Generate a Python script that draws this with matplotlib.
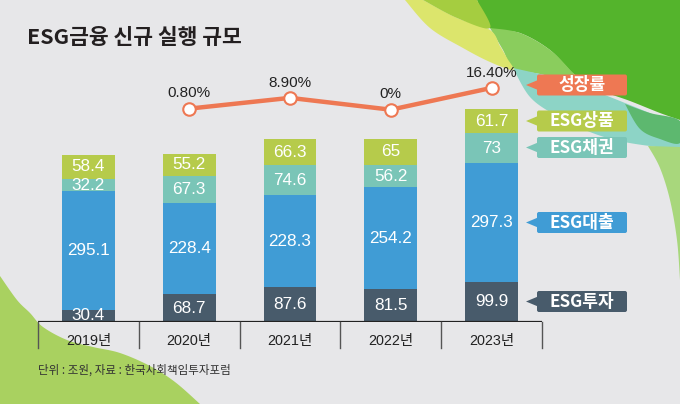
import numpy as np
import matplotlib
matplotlib.use("Agg")
import matplotlib.pyplot as plt
from matplotlib.patches import Polygon, FancyBboxPatch

plt.rcParams['font.family'] = ['Liberation Sans', 'Noto Sans CJK KR', 'DejaVu Sans']

# ---------------- data ----------------
years = ['2019년', '2020년', '2021년', '2022년', '2023년']
esg_invest = [30.4, 68.7, 87.6, 81.5, 99.9]      # ESG투자
esg_loan = [295.1, 228.4, 228.3, 254.2, 297.3]    # ESG대출
esg_bond = [32.2, 67.3, 74.6, 56.2, 73]           # ESG채권
esg_product = [58.4, 55.2, 66.3, 65, 61.7]        # ESG상품
growth_years = ['2020년', '2021년', '2022년', '2023년']
growth = [0.8, 8.9, 0, 16.4]
growth_labels = ['0.80%', '8.90%', '0%', '16.40%']
series_names = ['ESG투자', 'ESG대출', 'ESG채권', 'ESG상품']
line_name = '성장률'
title = 'ESG금융 신규 실행 규모'
note = '단위 : 조원, 자료 : 한국사회책임투자포럼'

C_INV = '#485b6b'
C_LOAN = '#409cd5'
C_BOND = '#7ac5b7'
C_PROD = '#b6cb4b'
C_LINE = '#ee7853'
BG = '#e7e7e9'

W, H = 680, 404
fig = plt.figure(figsize=(W / 100, H / 100), dpi=100)
fig.patch.set_facecolor(BG)

# ---------------- background decoration ----------------
bg = fig.add_axes([0, 0, 1, 1], zorder=0)
bg.set_xlim(0, W)
bg.set_ylim(H, 0)
bg.axis('off')


def smooth(pts, n=12):
    pts = np.asarray(pts, float)
    out = []
    for i in range(len(pts) - 1):
        p0 = pts[max(i - 1, 0)]
        p1 = pts[i]
        p2 = pts[i + 1]
        p3 = pts[min(i + 2, len(pts) - 1)]
        for t in np.linspace(0, 1, n, endpoint=False):
            t2, t3 = t * t, t * t * t
            out.append(0.5 * ((2 * p1) + (-p0 + p2) * t + (2 * p0 - 5 * p1 + 4 * p2 - p3) * t2
                              + (-p0 + 3 * p1 - 3 * p2 + p3) * t3))
    out.append(pts[-1])
    return np.array(out)


def shape(boundary, extra, color, z=1):
    pts = np.vstack([smooth(boundary), np.asarray(extra, float).reshape(-1, 2)]) if extra else smooth(boundary)
    bg.add_patch(Polygon(pts, closed=True, facecolor=color, edgecolor='none', zorder=z))


# bright green
shape([(477, 0), (490, 28), (520, 33), (550, 50), (575, 75), (600, 90), (630, 101), (660, 113), (680, 120)],
      [(680, 0)], '#54b42c')
# lighter green band
shape([(490, 28), (520, 33), (550, 50), (572, 72), (582, 84), (567, 80), (540, 74), (513, 68), (503, 50), (490, 28)],
      None, '#8acd5d')
# teal band
shape([(513, 68), (540, 74), (567, 80), (600, 93), (630, 105), (660, 117), (680, 123),
       (680, 148), (650, 146), (615, 140), (585, 130), (555, 115), (530, 97), (513, 68)], None, '#8dd4c6')
# overlap darker green
shape([(625, 104), (650, 113), (680, 121), (680, 143), (660, 139), (640, 129), (625, 104)], None, '#5db86f')
# yellow crescent
shape([(405, 0), (430, 28), (463, 48), (490, 62), (513, 70), (507, 58), (500, 46), (490, 30), (457, 18), (423, 0)],
      None, '#dce56c')
# lime top
shape([(423, 0), (457, 18), (490, 28), (477, 0)], None, '#a5cd40')
# right light green strip
shape([(648, 146), (660, 168), (670, 200), (677, 240), (680, 280)], [(680, 147)], '#a8d77c')
# bottom-left blob
shape([(0, 276), (17, 300), (30, 313), (43, 327), (67, 340), (93, 347), (120, 353), (150, 366),
       (175, 382), (200, 404)], [(0, 404)], '#a9d160')

# ---------------- main axes ----------------
px_per_unit = 0.401
base_y = 322
ymax = 600
ax_h = ymax * px_per_unit
ax = fig.add_axes([38 / W, (H - base_y) / H, 504 / W, ax_h / H], zorder=2)
ax.patch.set_alpha(0)
ax.set_xlim(-0.5, 4.5)
ax.set_ylim(0, ymax)
for s in ax.spines.values():
    s.set_visible(False)
ax.set_xticks([])
ax.set_yticks([])

x = np.arange(len(years))
bw = 0.525
segments = [(esg_invest, C_INV), (esg_loan, C_LOAN), (esg_bond, C_BOND), (esg_product, C_PROD)]
bottom = np.zeros(len(years))
for vals, col in segments:
    vals = np.asarray(vals, float)
    ax.bar(x, vals, bottom=bottom, width=bw, color=col, edgecolor='none', zorder=2)
    for xi, b, v in zip(x, bottom, vals):
        lab = ('%g' % v)
        ax.text(xi, b + v / 2, lab, ha='center', va='center', color='white', fontsize=12.3,
                family=['Liberation Sans'], zorder=3)
    bottom += vals

ax.axhline(0, color='#222222', lw=1.6, zorder=4)
sep_len = 26 / px_per_unit
for b in np.arange(-0.5, 5.0, 1.0):
    ax.plot([b, b], [0, -sep_len], color='#555555', lw=1.0, clip_on=False, zorder=4)
for xi, yl in zip(x, years):
    ax.text(xi, -(341 - base_y) / px_per_unit, yl, ha='center', va='center', fontsize=10.4,
            color='#222222')

# growth line on twin axis
ax2 = ax.twinx()
ax2.patch.set_alpha(0)
# pixel y of growth g ~ 109.7 - 1.33 g
g_bottom = -(base_y - 109.7) / 1.33
g_top = g_bottom + ax_h / 1.33
ax2.set_ylim(g_bottom, g_top)
for s in ax2.spines.values():
    s.set_visible(False)
ax2.set_yticks([])
gx = [years.index(y) for y in growth_years]
ax2.plot(gx, growth, color=C_LINE, lw=3.2, zorder=5, solid_capstyle='round')
ax2.plot(gx, growth, 'o', ms=9, mfc='white', mec=C_LINE, mew=1.5, zorder=6)
for xi, g, lab in zip(gx, growth, growth_labels):
    ax2.annotate(lab, (xi, g), xytext=(0, 11), textcoords='offset points', ha='center',
                 va='center', fontsize=11, color='#222222')

# ---------------- legend tags ----------------
tags = [(line_name, C_LINE, 85), (series_names[3], C_PROD, 121), (series_names[2], C_BOND, 147.5),
        (series_names[1], C_LOAN, 222.5), (series_names[0], C_INV, 301.5)]
for name, col, cy in tags:
    hh = 10.5
    bg.add_patch(FancyBboxPatch((537, cy - hh), 90, 2 * hh, boxstyle='round,pad=0,rounding_size=2',
                                facecolor=col, edgecolor='none', zorder=10))
    bg.add_patch(Polygon([(526, cy), (538, cy - 5), (538, cy + 5)], closed=True, facecolor=col,
                         edgecolor='none', zorder=10))
    bg.text(582, cy + 0.5, name, ha='center', va='center', color='white', fontsize=12.3,
            fontweight='black', family=['Noto Sans CJK KR'], zorder=11)

# ---------------- title / note ----------------
bg.text(27, 37, title, ha='left', va='center', fontsize=15.5, fontweight='black',
        family=['Noto Sans CJK KR'], color='#231f20', zorder=11)
bg.text(38, 370, note, ha='left', va='center', fontsize=8.3, family=['Noto Sans CJK KR'],
        color='#333333', zorder=11)

fig.savefig('out.png', dpi=100, facecolor=BG)
